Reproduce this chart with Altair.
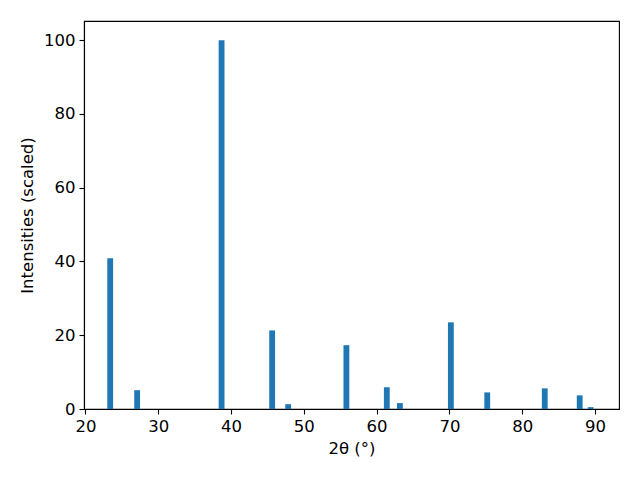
import altair as alt
import pandas as pd

two_theta = [23.4, 27.1, 38.7, 45.65, 47.85, 55.85, 61.4, 63.2, 70.2, 75.2, 83.1, 87.9, 89.4]
intensity = [40.9, 5.1, 100.0, 21.3, 1.3, 17.3, 5.9, 1.6, 23.5, 4.5, 5.6, 3.7, 0.5]
bar_width = 0.8
x_ticks = [20, 30, 40, 50, 60, 70, 80, 90]
y_ticks = [0, 20, 40, 60, 80, 100]

df = pd.DataFrame({"two_theta": two_theta, "intensity": intensity})

font = "DejaVu Sans"

chart = (
    alt.Chart(df)
    .transform_calculate(
        x0=f"datum.two_theta - {bar_width / 2}",
        x1=f"datum.two_theta + {bar_width / 2}",
    )
    .mark_bar(color="#1f77b4")
    .encode(
        x=alt.X(
            "x0:Q",
            scale=alt.Scale(domain=[19.8, 93.3], nice=False, zero=False),
            axis=alt.Axis(values=x_ticks, title="2θ (°)", grid=False),
        ),
        x2="x1:Q",
        y=alt.Y(
            "intensity:Q",
            scale=alt.Scale(domain=[0, 105.2], nice=False),
            axis=alt.Axis(values=y_ticks, title="Intensities (scaled)", grid=False),
        ),
        y2=alt.datum(0),
    )
    .properties(
        width=535,
        height=388,
        autosize=alt.AutoSizeParams(type="none"),
        padding={"left": 76, "top": 13, "right": 13, "bottom": 63},
    )
    .configure_view(stroke="black", strokeWidth=1.1)
    .configure_axis(
        domainColor="black",
        domainWidth=1.1,
        tickColor="black",
        tickWidth=1.1,
        tickSize=5,
        labelFont=font,
        labelFontSize=16.5,
        labelColor="black",
        labelPadding=4,
        titleFont=font,
        titleFontSize=16.5,
        titleFontWeight="normal",
        titleColor="black",
    )
    .configure_axisX(titlePadding=6)
    .configure_axisY(titlePadding=8)
)

chart.save("out.html", embed_options={"renderer": "svg", "actions": False})
